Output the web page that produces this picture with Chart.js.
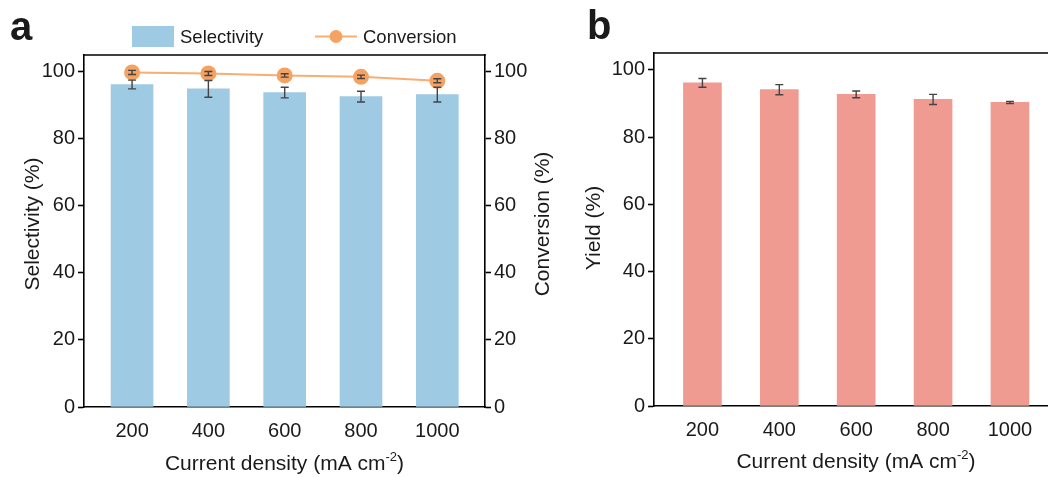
<!DOCTYPE html>
<html>
<head>
<meta charset="utf-8">
<script src="https://cdn.jsdelivr.net/npm/chart.js@4.4.0/dist/chart.umd.min.js"></script>
<style>
body{margin:0;width:1048px;height:477px;overflow:hidden;background:#fff;position:relative;font-family:"Liberation Sans",Arial,sans-serif}
canvas{position:absolute;top:0}
#chartA{left:0}
#chartB{left:560px}
.tag{position:absolute;font-weight:bold;font-size:40px;line-height:1;color:#1a1a1a}
</style>
</head>
<body>
<canvas id="chartA" width="570" height="477"></canvas>
<canvas id="chartB" width="560" height="477"></canvas>
<div class="tag" style="left:10px;top:6px">a</div>
<div class="tag" style="left:587px;top:5px">b</div>
<script>
const densities = [200, 400, 600, 800, 1000];
const selectivity = [96.2, 94.9, 93.8, 92.6, 93.2];
const selectivityErr = [1.3, 2.5, 1.6, 1.6, 2.2];
const conversion = [99.8, 99.5, 98.9, 98.5, 97.3];
const conversionErr = [0.6, 0.6, 0.5, 0.5, 0.6];
const yieldVals = [96.1, 94.1, 92.7, 91.2, 90.3];
const yieldErr = [1.3, 1.5, 1.0, 1.5, 0.3];
const yTicks = [0, 20, 40, 60, 80, 100];

const family = '"Liberation Sans", Arial, sans-serif';
const ink = '#1a1a1a';
Chart.defaults.font.family = family;
Chart.defaults.color = ink;

// error bars drawn from each dataset's "errors" list
const errorBars = {
    id: 'errorBars',
    afterDatasetsDraw(chart){
        const ctx = chart.ctx;
        chart.data.datasets.forEach(function(ds, i){
            if(!ds.errors) return;
            const meta = chart.getDatasetMeta(i);
            const xs = chart.scales[meta.xAxisID];
            const ys = chart.scales[meta.yAxisID];
            ctx.save();
            ctx.strokeStyle = '#444';
            ctx.lineWidth = 1.4;
            ds.data.forEach(function(p, j){
                const x = xs.getPixelForValue(p.x);
                const y1 = ys.getPixelForValue(p.y + ds.errors[j]);
                const y2 = ys.getPixelForValue(p.y - ds.errors[j]);
                ctx.beginPath();
                ctx.moveTo(x, y1); ctx.lineTo(x, y2);
                ctx.moveTo(x - 4, y1); ctx.lineTo(x + 4, y1);
                ctx.moveTo(x - 4, y2); ctx.lineTo(x + 4, y2);
                ctx.stroke();
            });
            ctx.restore();
        });
    }
};

// top frame line and axis titles
const decor = {
    id: 'decor',
    afterDraw(chart, args, opts){
        const ctx = chart.ctx;
        const a = chart.chartArea;
        ctx.save();
        ctx.strokeStyle = '#000';
        ctx.lineWidth = 1.6;
        ctx.beginPath();
        ctx.moveTo(a.left - 0.8, a.top);
        ctx.lineTo(a.right + 0.8, a.top);
        ctx.stroke();

        ctx.fillStyle = ink;
        ctx.textBaseline = 'middle';
        ctx.textAlign = 'center';
        ctx.font = '21px ' + family;
        opts.yTitles.forEach(function(t){
            ctx.save();
            ctx.translate(t.x, t.y);
            ctx.rotate(-Math.PI / 2);
            ctx.fillText(t.text, 0, 0);
            ctx.restore();
        });

        // x title with superscript
        ctx.textBaseline = 'alphabetic';
        ctx.textAlign = 'left';
        const main = 'Current density (mA cm', sup = '-2', end = ')';
        ctx.font = '21px ' + family;
        const w1 = ctx.measureText(main).width;
        const w3 = ctx.measureText(end).width;
        ctx.font = '13px ' + family;
        const w2 = ctx.measureText(sup).width;
        let x = (a.left + a.right) / 2 - (w1 + w2 + w3) / 2;
        const y = opts.xTitleY;
        ctx.font = '21px ' + family;
        ctx.fillText(main, x, y);
        x += w1;
        ctx.font = '13px ' + family;
        ctx.fillText(sup, x, y - 9);
        x += w2;
        ctx.font = '21px ' + family;
        ctx.fillText(end, x, y);
        ctx.restore();
    }
};

const legendA = {
    id: 'legendA',
    afterDraw(chart){
        const ctx = chart.ctx;
        ctx.save();
        ctx.fillStyle = '#9fcae3';
        ctx.fillRect(132, 26, 42, 21);
        ctx.font = '18.5px ' + family;
        ctx.fillStyle = ink;
        ctx.fillText('Selectivity', 180, 43);
        ctx.strokeStyle = '#f8ad72';
        ctx.lineWidth = 2;
        ctx.beginPath(); ctx.moveTo(315, 36.5); ctx.lineTo(357, 36.5); ctx.stroke();
        ctx.beginPath(); ctx.arc(336, 36.5, 6.5, 0, Math.PI * 2);
        ctx.fillStyle = '#f5a262'; ctx.fill();
        ctx.fillStyle = ink;
        ctx.fillText('Conversion', 363, 43);
        ctx.restore();
    }
};

function yAxis(position, width){
    return {
        type: 'linear',
        position: position,
        min: 0,
        max: 105,
        afterBuildTicks: s => { s.ticks = yTicks.map(v => ({value: v})); },
        afterFit: s => { s.width = width; },
        grid: {drawOnChartArea: false, drawTicks: true, tickLength: 6, tickWidth: 1.6, color: '#000', tickColor: '#000'},
        border: {color: '#000', width: 1.6},
        ticks: {font: {size: 20}, color: ink, padding: 3, callback: v => String(v)}
    };
}

function xAxis(height){
    return {
        type: 'linear',
        min: 74,
        max: 1125,
        offset: false,
        afterBuildTicks: s => { s.ticks = densities.map(v => ({value: v})); },
        afterFit: s => { s.height = height; },
        grid: {display: false},
        border: {color: '#000', width: 1.6},
        ticks: {font: {size: 20}, color: ink, padding: 4, callback: v => String(v)}
    };
}

new Chart(document.getElementById('chartA'), {
    type: 'bar',
    data: {
        datasets: [
            {
                type: 'bar',
                label: 'Selectivity',
                data: densities.map((d, i) => ({x: d, y: selectivity[i]})),
                errors: selectivityErr,
                backgroundColor: '#9fcae3',
                barThickness: 42,
                yAxisID: 'y',
                order: 2
            },
            {
                type: 'line',
                label: 'Conversion',
                data: densities.map((d, i) => ({x: d, y: conversion[i]})),
                errors: conversionErr,
                borderColor: '#f8ad72',
                borderWidth: 2,
                pointRadius: 7,
                pointBackgroundColor: '#f5a262',
                pointBorderColor: '#f5a262',
                yAxisID: 'y2',
                order: 1
            }
        ]
    },
    options: {
        responsive: false,
        animation: false,
        layout: {padding: {top: 55, left: 0, right: 0, bottom: 0}},
        plugins: {
            legend: {display: false},
            tooltip: {enabled: false},
            decor: {
                yTitles: [
                    {text: 'Selectivity (%)', x: 33, y: 224},
                    {text: 'Conversion (%)', x: 543, y: 224}
                ],
                xTitleY: 470
            }
        },
        scales: {
            x: xAxis(70),
            y: yAxis('left', 84),
            y2: yAxis('right', 85)
        }
    },
    plugins: [errorBars, decor, legendA]
});

new Chart(document.getElementById('chartB'), {
    type: 'bar',
    data: {
        datasets: [
            {
                label: 'Yield',
                data: densities.map((d, i) => ({x: d, y: yieldVals[i]})),
                errors: yieldErr,
                backgroundColor: '#f09b91',
                barThickness: 38
            }
        ]
    },
    options: {
        responsive: false,
        animation: false,
        layout: {padding: {top: 53, left: 0, right: 62, bottom: 0}},
        plugins: {
            legend: {display: false},
            tooltip: {enabled: false},
            decor: {
                yTitles: [{text: 'Yield (%)', x: 34, y: 228}],
                xTitleY: 468
            }
        },
        scales: {
            x: xAxis(71),
            y: yAxis('left', 94)
        }
    },
    plugins: [errorBars, decor]
});
</script>
</body>
</html>
